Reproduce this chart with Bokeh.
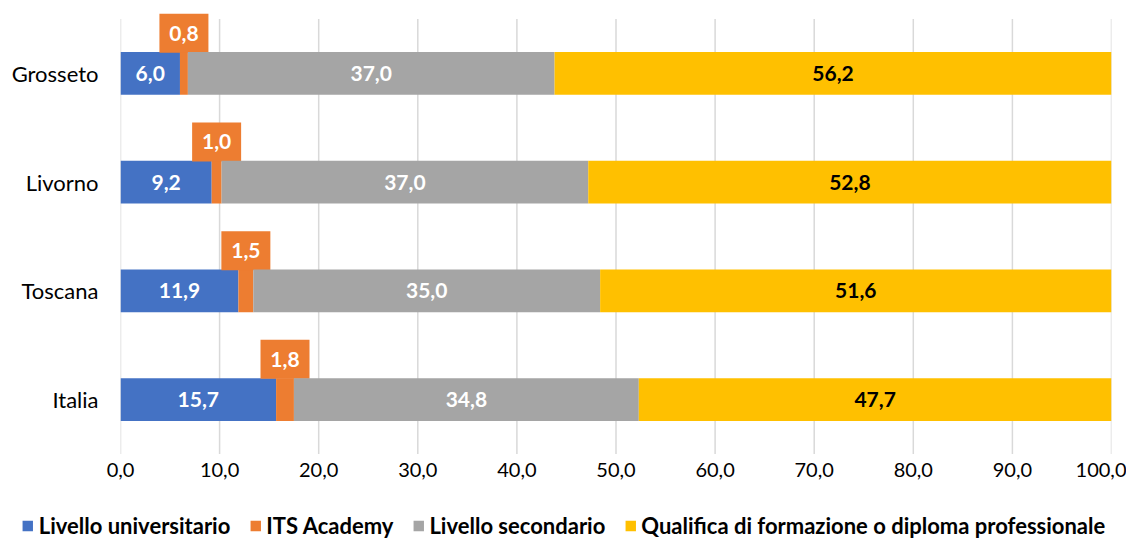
from bokeh.plotting import figure
from bokeh.layouts import column
from bokeh.models import (ColumnDataSource, FactorRange, CustomJSTickFormatter,
                          FixedTicker, Legend, LegendItem)
from bokeh.transform import dodge
from bokeh.core.properties import value
from bokeh.embed import file_html
from bokeh.resources import INLINE

categories = ["Grosseto", "Livorno", "Toscana", "Italia"]
universitario = [6.0, 9.2, 11.9, 15.7]
its_academy = [0.8, 1.0, 1.5, 1.8]
secondario = [37.0, 37.0, 35.0, 34.8]
qualifica = [56.2, 52.8, 51.6, 47.7]
series_names = ["Livello universitario", "ITS Academy", "Livello secondario",
                "Qualifica di formazione o diploma professionale"]
x_ticks = [0, 10, 20, 30, 40, 50, 60, 70, 80, 90, 100]

colors = ["#4472C4", "#ED7D31", "#A5A5A5", "#FFC000"]
FONT = "Lato"
PAD = 0.06

def fmt(v):
    return f"{v:.1f}".replace(".", ",")

p = figure(width=1126, height=508, output_backend="svg", toolbar_location=None,
           y_range=FactorRange(factors=categories[::-1], range_padding=PAD,
                               range_padding_units="absolute"),
           x_range=(0, 100), min_border_left=120, min_border_right=15,
           min_border_top=12, min_border_bottom=48, frame_align=False)
p.outline_line_color = None
p.grid.grid_line_color = None

# vertical gridlines spanning only the category bands
grid_src = ColumnDataSource(dict(x=x_ticks, ylo=[categories[-1]] * len(x_ticks),
                                 yhi=[categories[0]] * len(x_ticks)))
p.segment(x0="x", x1="x", y0=dodge("ylo", -0.5, range=p.y_range),
          y1=dodge("yhi", 0.5, range=p.y_range), source=grid_src,
          line_color="#D9D9D9", line_width=1.5)

p.xaxis.ticker = FixedTicker(ticks=x_ticks)
p.xaxis.formatter = CustomJSTickFormatter(code="return tick.toFixed(1).replace('.', ',');")
for ax in (p.xaxis, p.yaxis):
    ax.axis_line_color = None
    ax.major_tick_line_color = None
    ax.minor_tick_line_color = None
    ax.major_label_text_font = FONT
    ax.major_label_text_color = "#000000"
p.xaxis.major_label_text_font_size = "20px"
p.yaxis.major_label_text_font_size = "22px"
p.xaxis.major_label_standoff = -4
p.yaxis.major_label_standoff = 16

series = [universitario, its_academy, secondario, qualifica]
lefts = [[0.0] * len(categories)]
for s in series[:-1]:
    lefts.append([a + b for a, b in zip(lefts[-1], s)])

# legend strip below the chart
pl = figure(width=1126, height=34, output_backend="svg", toolbar_location=None,
            x_range=(0, 100), y_range=FactorRange(factors=categories),
            min_border=0, frame_align=False)
pl.axis.visible = False
pl.grid.grid_line_color = None
pl.outline_line_color = None

leg_renderers = []
for i, s in enumerate(series):
    left = lefts[i]
    right = [a + b for a, b in zip(left, s)]
    src = ColumnDataSource(dict(cat=categories, left=left, right=right,
                                mid=[(a + b) / 2 for a, b in zip(left, right)],
                                lab=[fmt(v) for v in s]))
    p.hbar(y="cat", left="left", right="right", height=0.392, source=src,
           fill_color=colors[i], line_color=None)
    leg_renderers.append(pl.hbar(y="cat", left="left", right="right", height=0.5,
                                 source=src, fill_color=colors[i], line_color=None,
                                 visible=False))
    if i == 1:
        yoff = dodge("cat", 0.37, range=p.y_range)
        p.rect(x="mid", y=yoff, width=49, height=39, width_units="screen",
               height_units="screen", source=src, fill_color=colors[i], line_color=None)
        p.text(x="mid", y=yoff, text="lab", source=src, text_align="center",
               text_baseline="middle", text_color="white", text_font=value(FONT),
               text_font_style="bold", text_font_size="21px")
    else:
        p.text(x="mid", y="cat", text="lab", source=src, text_align="center",
               text_baseline="middle", text_color="black" if i == 3 else "white",
               text_font=value(FONT), text_font_style="bold", text_font_size="21px")

legend = Legend(items=[LegendItem(label=n, renderers=[r])
                       for n, r in zip(series_names, leg_renderers)],
                orientation="horizontal", location="center")
legend.label_text_font = FONT
legend.label_text_font_style = "bold"
legend.label_text_font_size = "22px"
legend.label_text_color = "#000000"
legend.glyph_width = 13
legend.glyph_height = 13
legend.label_standoff = 5
legend.spacing = 18
legend.padding = 0
legend.margin = 0
legend.border_line_color = None
legend.background_fill_alpha = 0
legend.inactive_fill_alpha = 0
legend.label_height = 28
pl.add_layout(legend, "center")

open("out.html", "w").write(file_html(column(p, pl, spacing=0), INLINE))
